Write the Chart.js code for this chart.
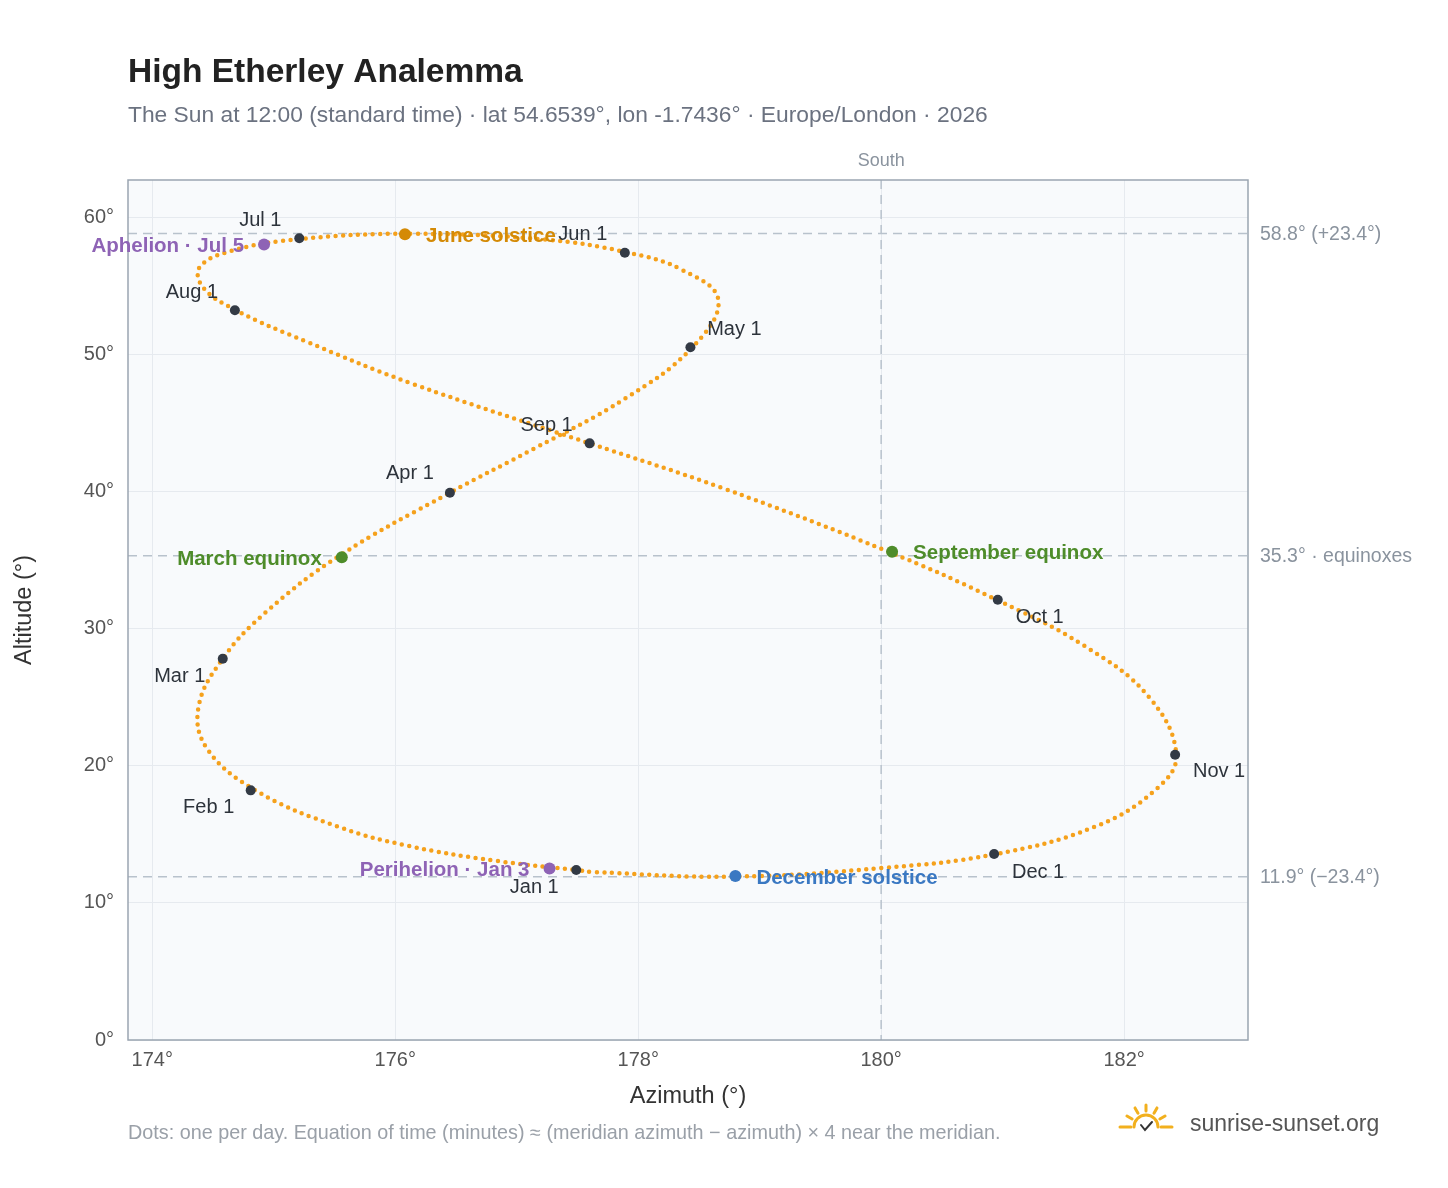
<!DOCTYPE html>
<html><head><meta charset="utf-8">
<script src="https://cdn.jsdelivr.net/npm/chart.js@4/dist/chart.umd.min.js"></script>
<style>html,body{margin:0;background:#fff}canvas{display:block}</style>
</head><body>
<canvas id="c" width="1448" height="1188"></canvas>
<script>
// Analemma track (sampled dates), azimuth ° and altitude °
const trackDates = ["Jan 1","Jan 8","Jan 15","Jan 22","Feb 1","Feb 11","Feb 20","Mar 1","Mar 10","Mar 20","Apr 1","Apr 10","Apr 20","May 1","May 14","May 24","Jun 1","Jun 10","Jun 21","Jul 1","Jul 10","Jul 18","Jul 26","Aug 1","Aug 10","Aug 20","Sep 1","Sep 10","Sep 22","Oct 1","Oct 10","Oct 20","Nov 1","Nov 10","Nov 20","Dec 1","Dec 10","Dec 21","Dec 31"];
const trackAz = [177.52,176.84,176.11,175.53,174.85,174.45,174.38,174.58,174.93,175.54,176.44,177.15,177.89,178.44,178.66,178.36,177.92,177.24,176.15,175.22,174.66,174.39,174.42,174.69,175.26,176.14,177.60,178.69,180.06,180.95,181.67,182.20,182.43,182.26,181.76,180.94,180.02,178.77,177.63];
const trackAlt = [12.37,13.05,14.15,15.55,18.2,21.25,24.25,27.8,31.15,35.3,39.85,43.15,46.75,50.45,53.95,56.15,57.4,58.35,58.78,58.4,57.55,56.35,54.85,53.2,50.95,47.85,43.5,40.25,35.6,32.1,28.75,25.05,20.8,18.25,15.55,13.55,12.55,11.91,12.25];
// Month starts
const monthLabels = ["Jan 1","Feb 1","Mar 1","Apr 1","May 1","Jun 1","Jul 1","Aug 1","Sep 1","Oct 1","Nov 1","Dec 1"];
const monthAz = [177.49,174.81,174.58,176.45,178.43,177.89,175.21,174.68,177.60,180.96,182.42,180.93];
const monthAlt = [12.39,18.2,27.8,39.9,50.5,57.4,58.45,53.2,43.5,32.1,20.8,13.56];
// Special events
const eventLabels = ["Perihelion · Jan 3","March equinox","June solstice","Aphelion · Jul 5","September equinox","December solstice"];
const eventAz = [177.27,175.56,176.08,174.92,180.09,178.80];
const eventAlt = [12.5,35.2,58.75,58.0,35.6,11.95];
const eventColors = ["#8e63b5","#4e8c2a","#d48a06","#8e63b5","#4e8c2a","#3a78c2"];
const refAlt = [58.8,35.3,11.9];
const refLabels = ["58.8° (+23.4°)","35.3° · equinoxes","11.9° (−23.4°)"];

const F = '"Liberation Sans", Arial, sans-serif';
const monthOff = [[-42,17],[-42,17],[-43,18],[-40,-19],[44,-18],[-42,-18],[-39,-18],[-43,-18],[-43,-18],[42,18],[44,17],[44,18]];
const eventAlign = ["right","right","left","right","left","left"];

const deco = {
  id:'deco',
  beforeDatasetsDraw(ch){
    const {ctx,chartArea:a,scales:{x,y}}=ch;
    ctx.save();
    ctx.strokeStyle='#b8c2cc';ctx.lineWidth=1.5;ctx.setLineDash([9,6]);
    refAlt.forEach(v=>{const py=y.getPixelForValue(v);ctx.beginPath();ctx.moveTo(a.left,py);ctx.lineTo(a.right,py);ctx.stroke();});
    const sx=x.getPixelForValue(180);ctx.beginPath();ctx.moveTo(sx,a.top);ctx.lineTo(sx,a.bottom);ctx.stroke();
    ctx.restore();
  },
  beforeDraw(ch){
    const {ctx,chartArea:a}=ch;ctx.save();ctx.fillStyle='#f8fafc';ctx.fillRect(a.left,a.top,a.right-a.left,a.bottom-a.top);ctx.restore();
  },
  afterDraw(ch){
    const {ctx,chartArea:a,scales:{x,y}}=ch;
    ctx.save();
    ctx.strokeStyle='#9aa5b1';ctx.lineWidth=1.5;ctx.strokeRect(a.left,a.top,a.right-a.left,a.bottom-a.top);
    ctx.textBaseline='middle';
    ctx.font='20px '+F;ctx.fillStyle='#2d333b';ctx.textAlign='center';
    monthLabels.forEach((l,i)=>{const px=x.getPixelForValue(monthAz[i]),py=y.getPixelForValue(monthAlt[i]);ctx.fillText(l,px+monthOff[i][0],py+monthOff[i][1]);});
    ctx.font='bold 20.5px '+F;
    eventLabels.forEach((l,i)=>{const px=x.getPixelForValue(eventAz[i]),py=y.getPixelForValue(eventAlt[i]);ctx.fillStyle=eventColors[i];ctx.textAlign=eventAlign[i];ctx.fillText(l,px+(eventAlign[i]==='left'?21:-20),py+2);});
    ctx.font='19.5px '+F;ctx.fillStyle='#8a939e';ctx.textAlign='left';
    refAlt.forEach((v,i)=>ctx.fillText(refLabels[i],a.right+12,y.getPixelForValue(v)+1));
    ctx.font='18px '+F;ctx.textAlign='center';ctx.fillText('South',x.getPixelForValue(180),161);
    ctx.textAlign='left';ctx.fillStyle='#222';ctx.font='bold 33.5px '+F;ctx.fillText('High Etherley Analemma',128,73);
    ctx.font='22.8px '+F;ctx.fillStyle='#6b7280';ctx.fillText('The Sun at 12:00 (standard time) · lat 54.6539°, lon -1.7436° · Europe/London · 2026',128,116);
    ctx.font='23.5px '+F;ctx.fillStyle='#333';ctx.textAlign='center';ctx.fillText('Azimuth (°)',688,1097);
    ctx.save();ctx.translate(25,610);ctx.rotate(-Math.PI/2);ctx.fillText('Altitude (°)',0,0);ctx.restore();
    ctx.textAlign='left';ctx.font='19.8px '+F;ctx.fillStyle='#9aa0a8';
    ctx.fillText('Dots: one per day. Equation of time (minutes) ≈ (meridian azimuth − azimuth) × 4 near the meridian.',128,1134);
    ctx.font='23px '+F;ctx.fillStyle='#555';ctx.fillText('sunrise-sunset.org',1190,1125);
    const cx=1146,cy=1127;ctx.strokeStyle='#f2b01e';ctx.lineWidth=3;ctx.lineCap='round';
    ctx.beginPath();ctx.arc(cx,cy,12,Math.PI,2*Math.PI);ctx.stroke();
    [-150,-120,-90,-60,-30].forEach(d=>{const r=d*Math.PI/180;ctx.beginPath();ctx.moveTo(cx+Math.cos(r)*16,cy+Math.sin(r)*16);ctx.lineTo(cx+Math.cos(r)*22,cy+Math.sin(r)*22);ctx.stroke();});
    ctx.beginPath();ctx.moveTo(cx-26,cy);ctx.lineTo(cx-15,cy);ctx.moveTo(cx+15,cy);ctx.lineTo(cx+26,cy);ctx.stroke();
    ctx.strokeStyle='#333';ctx.lineWidth=2;ctx.beginPath();ctx.moveTo(cx-5,cy-2);ctx.lineTo(cx-1,cy+3);ctx.lineTo(cx+6,cy-5);ctx.stroke();
    ctx.restore();
  }
};

const pts=(az,alt)=>az.map((v,i)=>({x:v,y:alt[i]}));
new Chart(document.getElementById('c'),{
  type:'scatter',
  data:{datasets:[
    {data:pts(trackAz,trackAlt).concat([{x:trackAz[0],y:trackAlt[0]}]),showLine:true,tension:0.4,borderColor:'#f5a11c',borderWidth:4.5,borderDash:[0,7.5],borderCapStyle:'round',pointRadius:0,order:3},
    {data:pts(monthAz,monthAlt),pointRadius:5,pointBackgroundColor:'#333a45',pointBorderWidth:0,order:1},
    {data:pts(eventAz,eventAlt),pointRadius:6,pointBackgroundColor:eventColors,pointBorderWidth:0,order:0}
  ]},
  options:{
    responsive:false,animation:false,
    layout:{padding:{left:0,right:200,top:180,bottom:0}},
    plugins:{legend:{display:false},tooltip:{enabled:false}},
    scales:{
      x:{type:'linear',min:173.8,max:183.02,afterFit:s=>{s.height=148;},
        ticks:{stepSize:2,includeBounds:false,callback:v=>v+'°',font:{size:20,family:F},color:'#555',padding:8},
        grid:{color:'#e6eaef',drawTicks:false},border:{display:false}},
      y:{type:'linear',min:0,max:62.7,afterFit:s=>{s.width=128;},
        ticks:{stepSize:10,includeBounds:false,callback:v=>v+'°',font:{size:20,family:F},color:'#555',padding:14},
        grid:{color:'#e6eaef',drawTicks:false},border:{display:false}}
    }
  },
  plugins:[deco]
});
</script>
</body></html>
